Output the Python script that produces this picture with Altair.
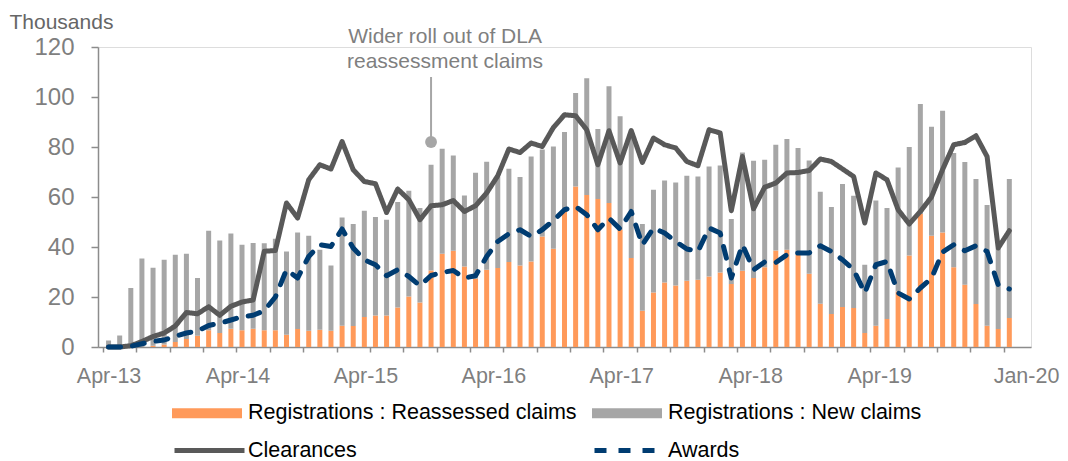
import altair as alt
import pandas as pd

# ---------------- data (thousands) ----------------
months = pd.date_range("2013-04-01", periods=82, freq="MS").strftime("%b-%y").tolist()

reassessed = [0, 0, 0, 0, 0.5, 1, 2, 3.2, 4.5, 6.7, 5.6, 7.3,
              6.7, 7.3, 6.7, 6.7, 4.9, 7.2, 6.5, 6.9, 6.5, 8.5, 8.4, 12,
              12.6, 12.6, 15.8, 20.2, 17.8, 30.6, 37.3, 38.5, 32.2, 27.3, 30.9, 31.6,
              34, 32.6, 34.2, 44.2, 39.3, 54.9, 64.2, 60.8, 59.2, 57.6, 46.9, 35.6,
              14.5, 21.8, 25.8, 24.6, 26.5, 26.9, 28.2, 29.8, 25.2, 30.5, 27.6, 31.9,
              38.6, 38.9, 36.8, 29.3, 17.3, 13.2, 16, 15.6, 5.6, 8.5, 11.2, 22.2,
              36.6, 53.2, 44.5, 45.8, 31.9, 24.9, 17.2, 8.5, 7.2, 11.6]

new_claims = [2.6, 4.6, 23.6, 35.4, 31.2, 33.9, 34.9, 34.1, 23.1, 39.8, 37, 38.1,
              34.2, 34.3, 34.8, 36.6, 33.3, 38.6, 38, 32, 26.1, 43.3, 40.8, 42.5,
              39.4, 38.3, 42.2, 42.3, 37.8, 42.3, 42, 38.1, 28.4, 42.4, 43.2, 36.4,
              37.3, 35.4, 42, 34.8, 40.9, 31.1, 37.4, 46.7, 28, 46.7, 45.4, 50.4,
              34.7, 41.1, 40.8, 41.2, 42, 41.3, 44, 42.8, 26, 47.3, 46.9, 43,
              42.3, 44.3, 42.8, 45.3, 44.8, 42.8, 49.2, 44.9, 27.3, 50.1, 44.4, 49.6,
              43.4, 44, 43.6, 48.7, 45.7, 49.1, 50, 48.3, 32.3, 55.6]

clearances = [0, 0, 0.5, 2.2, 4.2, 5.6, 8.4, 13.8, 13.3, 16.1, 12.7, 16.3,
              18, 18.8, 38.3, 38.6, 57.6, 51.6, 66.9, 72.9, 71.2, 82.2, 70.9, 66.2,
              65.3, 53.8, 63.2, 58.9, 50.9, 56.5, 56.9, 58.6, 54.2, 56.5, 61.6, 68.5,
              79.2, 77.8, 81.6, 80.2, 87.8, 92.9, 92.5, 86.9, 72.9, 86.5, 73.6, 86.6,
              73.8, 83.6, 80.9, 79.6, 74.2, 72.5, 86.9, 85.6, 54.5, 76.2, 55.3, 63.9,
              65.6, 69.6, 69.8, 70.6, 75.2, 74.2, 71.2, 68.2, 49.6, 69.6, 66.9, 54.9,
              49.2, 54.2, 60, 71, 80.9, 81.8, 84.5, 76.2, 39.6, 46.5]

awards = [0, 0, 0.3, 1.3, 2.2, 2.8, 4.3, 5.6, 6.4, 8.6, 9.5, 10.8,
          12.1, 12.7, 14.5, 20, 30.9, 27.6, 36.2, 40.9, 40.2, 47.2, 39.6, 34.9,
          32.9, 28.5, 30.9, 28.2, 24.5, 28.6, 29.8, 30.6, 27.6, 28.5, 36.2, 42.2,
          45.3, 46.9, 44.2, 46.9, 50.6, 54.9, 56.2, 52.9, 46.9, 51.5, 47.2, 54.2,
          40.9, 47.6, 45.6, 42.2, 39.2, 38.2, 47.6, 45.6, 27.6, 40.9, 30.9, 34,
          33.8, 36.9, 37.6, 37.6, 40.5, 38.2, 34.9, 30.9, 21.6, 32.9, 34.2, 21.6,
          19.2, 23.6, 27.5, 38, 40.9, 38.5, 40.5, 38.2, 24.9, 23.2]

bar_series = ["Registrations : Reassessed claims", "Registrations : New claims"]
line_series = ["Clearances", "Awards"]

annotation_text = ["Wider roll out of DLA", "reassessment claims"]
annotation_month = 29          # Sep-15
annotation_point = 82
annotation_line_top = 108
annotation_text_level = 124

# ---------------- styles ----------------
ORANGE = "#FF9A5A"
GREY_BAR = "#A6A6A6"
DARK = "#595959"
NAVY = "#003C71"
AXIS = "#8C8C8C"
TXT = "#7F7F7F"
FONT = "Liberation Sans"

n = len(months)
idx = list(range(n))

bars_df = pd.DataFrame({
    "idx": idx * 2,
    "month": months * 2,
    "value": reassessed + new_claims,
    "series": [bar_series[0]] * n + [bar_series[1]] * n,
    "ord": [0] * n + [1] * n,
})
lines_df = pd.DataFrame({
    "idx": idx * 2,
    "month": months * 2,
    "value": clearances + awards,
    "line": [line_series[0]] * n + [line_series[1]] * n,
})
ann_df = pd.DataFrame({
    "idx": [annotation_month],
    "value": [annotation_point],
    "top": [annotation_line_top],
    "textv": [annotation_text_level],
    "label": [annotation_text],
})

x_scale = alt.Scale(domain=[-0.5, n + 0.5], nice=False, zero=False)
y_scale = alt.Scale(domain=[0, 120], nice=False)

tick_axis = alt.Axis(
    orient="bottom", values=[-0.5 + 3 * k for k in range(28)], labels=False,
    ticks=True, tickSize=5, tickColor=AXIS, tickWidth=1.5,
    domain=True, domainColor=AXIS, domainWidth=1.5, grid=False, title=None,
)
label_positions = [0, 11.6, 23.1, 34.6, 46.1, 57.7, 69.3, n + 0.5]
label_axis = alt.Axis(
    orient="bottom", values=label_positions,
    labelExpr="datum.value > 80 ? 'Jan-20' : 'Apr-' + format(13 + round(datum.value / 11.55), 'd')",
    ticks=False, tickSize=0, domain=False, grid=False, title=None,
    labelFont=FONT, labelFontSize=21.5, labelColor=TXT, labelPadding=18,
    labelOverlap=False, labelFlush=False, labelBound=False,
)
y_axis = alt.Axis(
    orient="left", values=[0, 20, 40, 60, 80, 100, 120], grid=False,
    domain=True, domainColor=AXIS, domainWidth=1.5, ticks=True, tickSize=7,
    tickColor=AXIS, tickWidth=1.5, labelFont=FONT, labelFontSize=24,
    labelColor=TXT, labelPadding=17,
    title="Thousands", titleAngle=0, titleAlign="left", titleBaseline="alphabetic",
    titleX=-89, titleY=-19, titleFont=FONT, titleFontSize=21,
    titleFontWeight="normal", titleColor="#666666",
)

bar_legend = alt.Legend(
    title=None, orient="none", legendX=74, legendY=331, direction="horizontal",
    columns=2, columnPadding=15, symbolType="M-1,-0.143H1V0.143H-1Z",
    symbolSize=4900, symbolStrokeWidth=0, labelFont=FONT, labelFontSize=21.5,
    labelColor="#000000", labelOffset=6, labelLimit=800, padding=0,
)
line_legend = alt.Legend(
    title=None, orient="none", legendX=74, legendY=366, direction="horizontal",
    columns=2, columnPadding=227, symbolType="stroke", symbolSize=4900,
    symbolStrokeWidth=5, labelFont=FONT, labelFontSize=21.5, labelColor="#000000",
    labelOffset=1, labelLimit=800, padding=0,
)

bars = alt.Chart(bars_df).mark_bar(size=5).encode(
    x=alt.X("idx:Q", scale=x_scale, axis=tick_axis),
    y=alt.Y("value:Q", stack="zero", scale=y_scale, axis=y_axis),
    color=alt.Color("series:N", scale=alt.Scale(domain=bar_series, range=[ORANGE, GREY_BAR]),
                    legend=bar_legend, sort=bar_series),
    order=alt.Order("ord:Q"),
)

lines = alt.Chart(lines_df).mark_line(strokeWidth=5, strokeJoin="round", strokeCap="round").encode(
    x=alt.X("idx:Q", scale=x_scale, axis=label_axis),
    y=alt.Y("value:Q", scale=y_scale, axis=y_axis),
    color=alt.Color("line:N", scale=alt.Scale(domain=line_series, range=[DARK, NAVY]),
                    legend=line_legend, sort=line_series),
    strokeDash=alt.StrokeDash("line:N", scale=alt.Scale(domain=line_series, range=[[1, 0], [12, 12]]),
                              legend=line_legend, sort=line_series),
)

ann_rule = alt.Chart(ann_df).mark_rule(color=GREY_BAR, strokeWidth=2).encode(
    x=alt.X("idx:Q", scale=x_scale, axis=None),
    y=alt.Y("value:Q", scale=y_scale, axis=y_axis),
    y2="top:Q",
)
ann_dot = alt.Chart(ann_df).mark_circle(color=GREY_BAR, opacity=1, size=140).encode(
    x=alt.X("idx:Q", scale=x_scale, axis=None),
    y=alt.Y("value:Q", scale=y_scale, axis=y_axis),
)
ann_text = alt.Chart(ann_df).mark_text(
    font=FONT, fontSize=21, color=TXT, align="center", baseline="middle",
    lineHeight=25, dx=14,
).encode(
    x=alt.X("idx:Q", scale=x_scale, axis=None),
    y=alt.Y("textv:Q", scale=y_scale, axis=y_axis),
    text="label",
)

chart = alt.layer(bars, lines, ann_rule, ann_dot, ann_text).resolve_scale(
    color="independent", strokeDash="independent"
).resolve_axis(x="independent").resolve_legend(
    color="independent", strokeDash="independent"
).properties(
    width=933, height=300,
    autosize=alt.AutoSizeParams(type="none"),
    padding={"left": 90, "top": 39, "right": 29, "bottom": 114},
).configure_view(stroke=None).configure(font=FONT)

chart.save("out.html", embed_options={"renderer": "svg", "actions": False})
